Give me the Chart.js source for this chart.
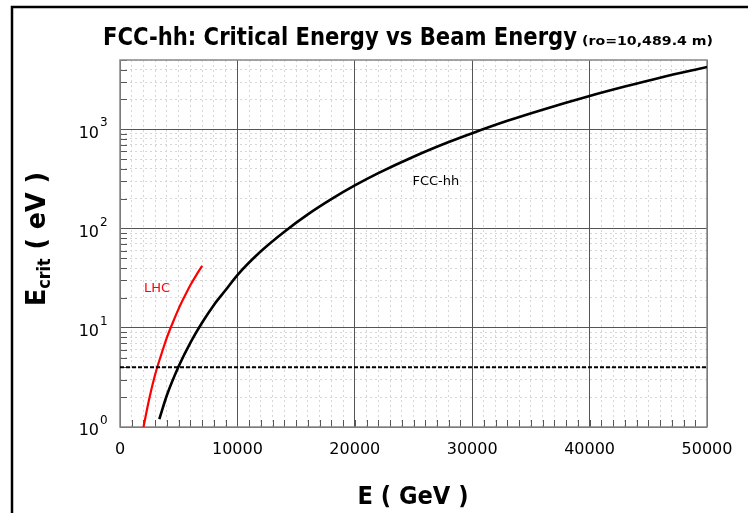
<!DOCTYPE html>
<html><head><meta charset="utf-8">
<script src="https://cdn.jsdelivr.net/npm/chart.js@4"></script>
<style>html,body{margin:0;padding:0;background:#fff;overflow:hidden}canvas{display:block}</style>
</head><body>
<canvas id="c" width="748" height="513"></canvas>
<script>
// ---- data ----
const fccEnergy = [3350, 4000, 5000, 6000, 7000, 8000, 9000, 10000, 12000, 14000, 16000, 18000, 20000, 22000, 25000, 28000, 30000, 33000, 36000, 40000, 43000, 46000, 50000];
const fccEcrit  = [1.2, 2.1, 4.1, 7.1, 11.3, 17, 24, 34, 59, 93, 139, 198, 272, 362, 530, 745, 915, 1220, 1580, 2170, 2700, 3320, 4250];
const lhcEnergy = [2000, 2500, 3000, 3500, 4000, 4500, 5000, 5500, 6000, 6500, 7000];
const lhcEcrit  = [1.0, 1.95, 3.4, 5.3, 8.0, 11.3, 15.6, 20.7, 27, 34, 42];
const refEnergy = [0, 50000];
const refEcrit  = [4, 4];

const xTickValues = [0, 10000, 20000, 30000, 40000, 50000];
const xTickLabels = ['0', '10000', '20000', '30000', '40000', '50000'];
const yTickValues = [1, 10, 100, 1000];
const yTickBase = '10';
const yTickExponents = ['0', '1', '2', '3'];
const xMinorValues = [];
for (let v = 1000; v < 50000; v += 1000) if (v % 10000 !== 0) xMinorValues.push(v);
const yMinorValues = [];
for (const d of [1, 10, 100, 1000]) for (let m = 2; m <= 9; m++) if (m * d <= 5000) yMinorValues.push(m * d);

const seriesLabels = ['FCC-hh', 'LHC'];
const annotEnergy = [26900, 3150];
const annotEcrit = [300, 25];

const title = 'FCC-hh: Critical Energy vs Beam Energy';
const subtitle = '(ro=10,489.4 m)';

const toXY = (xs, ys) => xs.map((x, i) => ({x, y: ys[i]}));
const FONT = '"DejaVu Sans", sans-serif';

function fitText(ctx, text, x, y, w, font, align) {
  ctx.font = font;
  const mw = ctx.measureText(text).width;
  const s = w / mw;
  ctx.save();
  ctx.translate(align === 'center' ? x - w / 2 : x, y);
  ctx.scale(s, 1);
  ctx.textAlign = 'left';
  ctx.textBaseline = 'alphabetic';
  ctx.fillText(text, 0, 0);
  ctx.restore();
}

const decor = {
  id: 'decor',
  beforeDraw(chart) {
    const {ctx, width, height} = chart;
    ctx.save(); ctx.fillStyle = '#fff'; ctx.fillRect(0, 0, width, height); ctx.restore();
  },
  beforeDatasetsDraw(chart) {
    const {ctx, chartArea: a, scales} = chart;
    ctx.save();
    ctx.strokeStyle = '#555'; ctx.lineWidth = 1;
    ctx.beginPath();
    for (const v of xMinorValues.concat(xTickValues)) {
      const px = Math.round(scales.x.getPixelForValue(v)) + 0.5;
      ctx.moveTo(px, a.bottom); ctx.lineTo(px, a.bottom - 7);
    }
    for (const v of yMinorValues) {
      const py = Math.round(scales.y.getPixelForValue(v)) + 0.5;
      ctx.moveTo(a.left, py); ctx.lineTo(a.left + 7, py);
    }
    ctx.stroke();
    ctx.strokeStyle = '#888'; ctx.lineWidth = 1.5;
    ctx.strokeRect(a.left, a.top, a.right - a.left, a.bottom - a.top);
    ctx.restore();
  },
  afterDraw(chart) {
    const {ctx, scales} = chart;
    ctx.save();
    // outer frame
    ctx.strokeStyle = '#000'; ctx.lineWidth = 2.5;
    ctx.beginPath(); ctx.moveTo(12, 530); ctx.lineTo(12, 7); ctx.lineTo(748, 7); ctx.stroke();
    // y tick exponents
    ctx.fillStyle = '#000'; ctx.font = '12px ' + FONT; ctx.textAlign = 'left'; ctx.textBaseline = 'alphabetic';
    yTickValues.forEach((v, i) => {
      ctx.fillText(yTickExponents[i], 100, scales.y.getPixelForValue(v) - 3);
    });
    // title
    fitText(ctx, title, 103, 45, 474, 'bold 25px ' + FONT);
    fitText(ctx, subtitle, 582, 45, 131, 'bold 13px ' + FONT);
    // x title
    fitText(ctx, 'E ( GeV )', 413, 504, 111, 'bold 24px ' + FONT, 'center');
    // y title with subscript
    ctx.save();
    ctx.translate(45, 306); ctx.rotate(-Math.PI / 2);
    const big = 'bold 27px ' + FONT, small = 'bold 17px ' + FONT;
    ctx.font = big; const w1 = ctx.measureText('E').width;
    ctx.font = small; const w2 = ctx.measureText('crit').width;
    ctx.font = big; const w3 = ctx.measureText(' ( eV )').width;
    const s = 134 / (w1 + w2 + w3);
    ctx.scale(s, 1);
    ctx.textBaseline = 'alphabetic';
    ctx.font = big; ctx.fillText('E', 0, 0);
    ctx.font = small; ctx.fillText('crit', w1, 5);
    ctx.font = big; ctx.fillText(' ( eV )', w1 + w2, 0);
    ctx.restore();
    // curve labels
    ctx.font = '13px ' + FONT; ctx.textAlign = 'center'; ctx.textBaseline = 'middle';
    const colors = ['#000', '#f00'];
    seriesLabels.forEach((t, i) => {
      ctx.fillStyle = colors[i];
      ctx.fillText(t, scales.x.getPixelForValue(annotEnergy[i]), scales.y.getPixelForValue(annotEcrit[i]));
    });
    ctx.restore();
  }
};

new Chart(document.getElementById('c'), {
  type: 'line',
  data: {
    datasets: [
      {label: 'ref', data: toXY(refEnergy, refEcrit), borderColor: '#000', borderWidth: 2, borderDash: [4, 2], pointRadius: 0, fill: false},
      {label: seriesLabels[1], data: toXY(lhcEnergy, lhcEcrit), borderColor: '#ff0000', borderWidth: 2.2, pointRadius: 0, fill: false, cubicInterpolationMode: 'monotone'},
      {label: seriesLabels[0], data: toXY(fccEnergy, fccEcrit), borderColor: '#000', borderWidth: 2.6, pointRadius: 0, fill: false, cubicInterpolationMode: 'monotone'}
    ]
  },
  options: {
    responsive: false, animation: false, devicePixelRatio: 1,
    layout: {padding: {left: 0, right: 41, top: 60, bottom: 0}},
    plugins: {legend: {display: false}, tooltip: {enabled: false}},
    scales: {
      xMinor: {
        type: 'linear', position: 'bottom', min: 0, max: 50000,
        afterBuildTicks: s => { s.ticks = xMinorValues.map(v => ({value: v})); },
        afterFit: s => { s.height = 0; },
        ticks: {display: false},
        grid: {color: '#d6d6d6', lineWidth: 1, drawTicks: false},
        border: {display: false, dash: [2, 3]}
      },
      yMinor: {
        type: 'logarithmic', position: 'left', min: 1, max: 5000,
        afterBuildTicks: s => { s.ticks = yMinorValues.map(v => ({value: v})); },
        afterFit: s => { s.width = 0; },
        ticks: {display: false},
        grid: {color: '#d6d6d6', lineWidth: 1, drawTicks: false},
        border: {display: false, dash: [2, 3]}
      },
      x: {
        type: 'linear', position: 'bottom', min: 0, max: 50000,
        afterBuildTicks: s => { s.ticks = xTickValues.map(v => ({value: v})); },
        afterFit: s => { s.height = 86; },
        ticks: {
          font: {family: FONT, size: 16}, color: '#000', padding: 13, maxRotation: 0, autoSkip: false,
          callback: (v) => xTickLabels[xTickValues.indexOf(v)]
        },
        grid: {color: '#555', lineWidth: 1, drawTicks: false},
        border: {display: false}
      },
      y: {
        type: 'logarithmic', position: 'left', min: 1, max: 5000,
        afterBuildTicks: s => { s.ticks = yTickValues.map(v => ({value: v})); },
        afterFit: s => { s.width = 120; },
        ticks: {
          font: {family: FONT, size: 16}, color: '#000', padding: 21, autoSkip: false, labelOffset: 4,
          callback: () => yTickBase
        },
        grid: {color: '#555', lineWidth: 1, drawTicks: false},
        border: {display: false}
      }
    }
  },
  plugins: [decor]
});
</script>
</body></html>
